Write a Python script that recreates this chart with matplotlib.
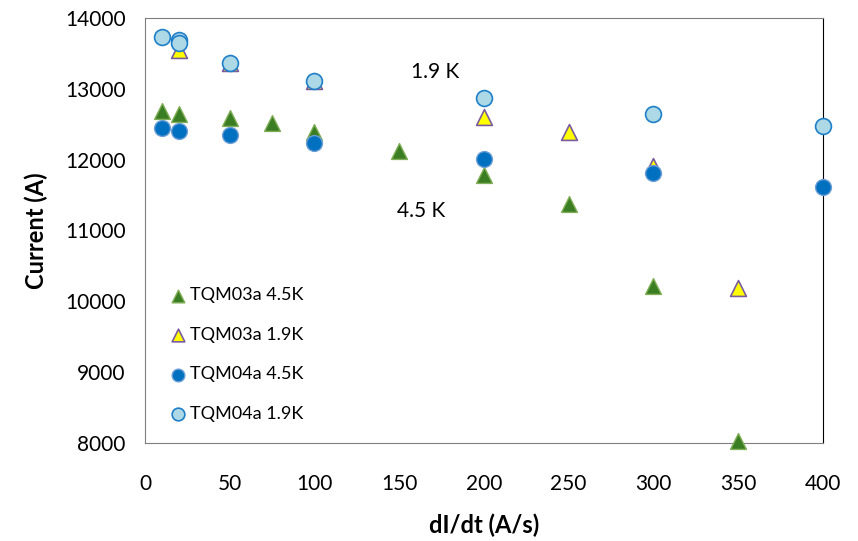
import matplotlib.pyplot as plt

plt.rcParams['font.family'] = ['Lato', 'DejaVu Sans']

# quench current vs ramp rate
x_03_45 = [10, 20, 50, 75, 100, 150, 200, 250, 300, 350]
i_03_45 = [12680, 12650, 12590, 12520, 12390, 12120, 11780, 11370, 10220, 8030]

x_03_19 = [20, 50, 100, 200, 250, 300, 350]
i_03_19 = [13550, 13360, 13110, 12600, 12390, 11910, 10190]

x_04_45 = [10, 20, 50, 100, 200, 300, 400]
i_04_45 = [12440, 12410, 12340, 12240, 12010, 11810, 11610]

x_04_19 = [10, 20, 20, 50, 100, 200, 300, 400]
i_04_19 = [13730, 13690, 13640, 13360, 13110, 12870, 12650, 12480]

fig = plt.figure(figsize=(8.58, 5.41), dpi=100)
ax = fig.add_axes([0.169, 0.181, 0.79, 0.786])

ax.scatter(x_03_45, i_03_45, marker='^', s=130, c='#3b7d23', edgecolors='#7fae56',
           linewidths=1, label='TQM03a 4.5K', zorder=3, clip_on=False)
ax.scatter(x_03_19, i_03_19, marker='^', s=130, c='#ffff00', edgecolors='#7a5c9e',
           linewidths=1.2, label='TQM03a 1.9K', zorder=4, clip_on=False)
ax.scatter(x_04_45, i_04_45, marker='o', s=130, c='#0070c0', edgecolors='#6d9fd6',
           linewidths=1, label='TQM04a 4.5K', zorder=5, clip_on=False)
ax.scatter(x_04_19, i_04_19, marker='o', s=130, c='#add8e6', edgecolors='#1f7fc8',
           linewidths=1.2, label='TQM04a 1.9K', zorder=6, clip_on=False)

ax.text(171, 13240, '1.9 K', fontsize=15, ha='center', va='center')
ax.text(163, 11270, '4.5 K', fontsize=15, ha='center', va='center')

ax.set_xlim(0, 400)
ax.set_ylim(8000, 14000)
ax.set_xticks(range(0, 401, 50))
ax.set_yticks(range(8000, 14001, 1000))
ax.tick_params(length=0, labelsize=15)
ax.tick_params(axis='x', pad=22)
ax.tick_params(axis='y', pad=14)
ax.set_xlabel('dI/dt (A/s)', fontsize=17, fontweight='bold', labelpad=14)
ax.set_ylabel('Current (A)', fontsize=17, fontweight='bold', labelpad=12)

for side in ['left', 'bottom', 'top']:
    ax.spines[side].set_color('#7f7f7f')
ax.spines['right'].set_color('black')

ax.legend(loc='lower left', bbox_to_anchor=(0.008, 0.012), frameon=False,
          fontsize=13, handletextpad=0.1, labelspacing=1.3, markerscale=0.8,
          handlelength=1.2)

fig.savefig('out.png', dpi=100)
